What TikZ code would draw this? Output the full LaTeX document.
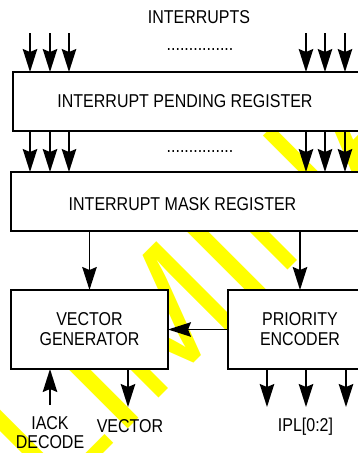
\documentclass[tikz,border=0pt]{standalone}
\usepackage{fontspec}
\setmainfont{Liberation Sans}[FakeStretch=0.86]
\newfontfamily\wmfont{Liberation Sans}
\usetikzlibrary{arrows.meta}
\definecolor{wmyellow}{RGB}{255,255,0}
\begin{document}
\begin{tikzpicture}[x=1pt,y=-1pt,
  lbl/.style={font=\fontsize{18.6}{20}\selectfont, inner sep=0pt, outer sep=0pt},
  box/.style={lbl, draw, line width=1.8pt, fill=white, anchor=north west, align=center},
  arr/.style={line width=1.6pt, -{Stealth[length=23pt,width=14.5pt,inset=3pt]}},
  wm/.style={text=wmyellow, font=\wmfont\fontsize{163}{163}\selectfont, inner sep=0pt, outer sep=0pt}]
\useasboundingbox (0,0) rectangle (357,453);

% diagonal watermark behind the blocks
\node[wm, rotate=45, anchor=base west] (wmark) at (-183.1,740.3) {PRELIMINARY};

% register and logic blocks
\node[box, minimum width=347pt, minimum height=59pt] (pend) at (13,72) {};
\node[lbl, anchor=base] (pendtxt) at (185,107) {INTERRUPT PENDING REGISTER};
\node[box, minimum width=349pt, minimum height=59pt] (mask) at (11,172) {};
\node[lbl, anchor=base] (masktxt) at (182.5,210) {INTERRUPT MASK REGISTER};
\node[box, minimum width=157pt, minimum height=79pt] (vgen) at (11,290) {VECTOR\\GENERATOR};
\node[box, minimum width=144pt, minimum height=79pt] (prio) at (228,290) {PRIORITY\\ENCODER};

% interrupt request lines
\foreach \n/\x in {i1/30,i2/50,i3/69,i4/306,i5/325,i6/345}
  \coordinate (\n) at (\x,33);
\foreach \n in {i1,i2,i3,i4,i5,i6} {
  \draw[arr] (\n) -- (pend.north -| \n);
  \draw[arr] (pend.south -| \n) -- (mask.north -| \n);
}
\node[lbl, anchor=base] (intr) at (199,23.3) {INTERRUPTS};
\node[lbl, anchor=base] (dots1) at (200,50) {...............};
\node[lbl, anchor=base] (dots2) at (200,152) {...............};

% internal paths
\draw[arr] (mask.south -| vgen.north) -- (vgen.north);
\draw[arr] (mask.south -| prio.north) -- (prio.north);
\draw[arr] (prio.west) -- (vgen.east);

% external signals
\coordinate (iack) at (50,405);
\coordinate (vout) at (128,407);
\draw[arr] (iack) -- (vgen.south -| iack);
\draw[arr] (vgen.south -| vout) -- (vout);
\foreach \n/\x in {p1/267,p2/306,p3/346} {
  \coordinate (\n) at (\x,407);
  \draw[arr] (prio.south -| \n) -- (\n);
}
\node[lbl, anchor=north, align=center, font=\fontsize{18.6}{19}\selectfont] (iacklbl) at (50,417) {IACK\\DECODE};
\node[lbl, anchor=base] (vlbl) at (130,432) {VECTOR};
\node[lbl, anchor=base] (ipl) at (305.5,431) {IPL[0:2]};
\end{tikzpicture}
\end{document}
